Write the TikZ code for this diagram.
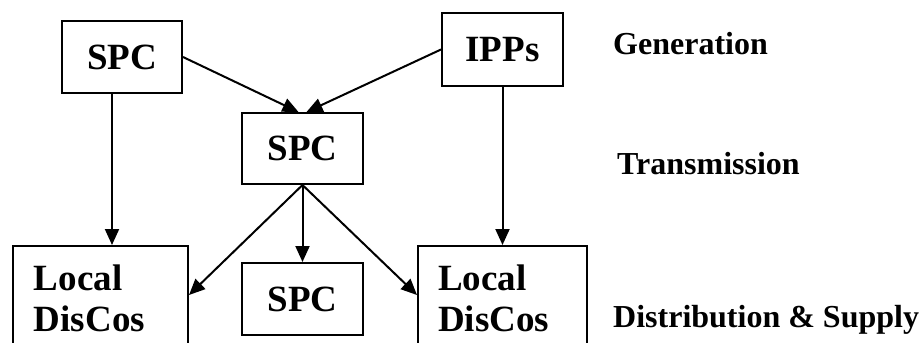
\documentclass[tikz,border=0pt]{standalone}
\usepackage{fontspec}
\setmainfont{Liberation Serif}
\usetikzlibrary{arrows.meta}
\begin{document}
\begin{tikzpicture}[x=1pt,y=-1pt,
  box/.style={draw=black, line width=2pt, inner sep=0pt, font=\fontsize{37}{41}\selectfont\bfseries},
  arr/.style={line width=2pt, -{Triangle[length=16pt,width=14pt]}},
  lab/.style={anchor=base west, inner sep=0pt, font=\fontsize{32}{38}\selectfont\bfseries}]
\useasboundingbox (0,0) rectangle (922,343);
\clip (0,0) rectangle (922,343);
\node[box, minimum width=120pt, minimum height=72pt] (spc1) at (122,57) {SPC};
\node[box, minimum width=121pt, minimum height=73pt] (ipp) at (502.5,49.5) {IPPs};
\node[box, minimum width=121pt, minimum height=71pt] (spc2) at (302.5,148.5) {SPC};
\node[box, minimum width=121pt, minimum height=72pt] (spc3) at (302.5,299) {SPC};
\node[box, anchor=north west, minimum width=175pt, minimum height=105pt, align=left, text width=175pt-42pt, inner xsep=21pt] (ll) at (12,245) {Local\\DisCos};
\node[box, anchor=north west, minimum width=169pt, minimum height=105pt, align=left, text width=169pt-40pt, inner xsep=20pt] (lr) at (417,245) {Local\\DisCos};
\node[lab] (gen) at (613,54) {Generation};
\node[lab] (tra) at (617,174) {Transmission};
\node[lab] (dis) at (613,327) {Distribution \& Supply};
\draw[arr] (spc1.east) -- ([xshift=-4pt]spc2.north);
\draw[arr] (ipp.west) -- ([xshift=4pt]spc2.north);
\draw[arr] ([xshift=-10pt]spc1.south) -- ([xshift=-10pt]spc1.south |- ll.north);
\draw[arr] (ipp.south) -- (ipp.south |- lr.north);
\draw[arr] (spc2.south) -- (spc3.north);
\draw[arr] (spc2.south) -- ([yshift=-50pt]ll.north east);
\draw[arr] (spc2.south) -- ([yshift=-50pt]lr.north west);
\end{tikzpicture}
\end{document}
